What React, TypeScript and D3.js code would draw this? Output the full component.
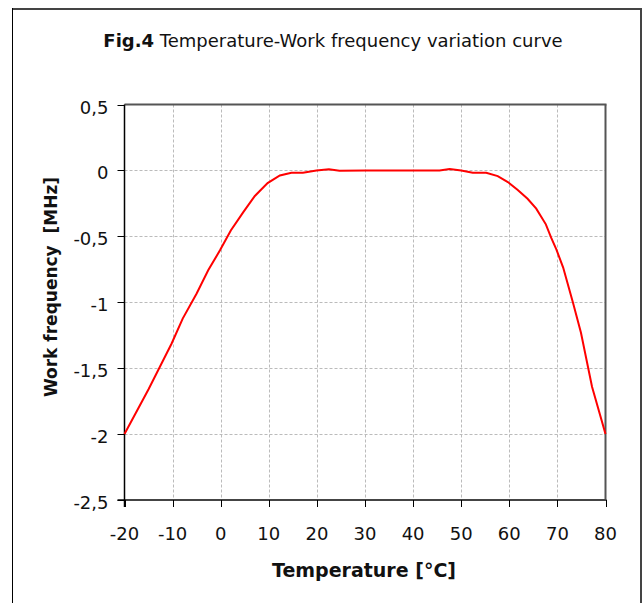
import React, { useEffect, useRef } from "react";
import * as d3 from "d3";

const temperature = [-20, -15, -10.2, -7.9, -5, -2.6, -0.15, 2.1, 4.7, 7.1, 9.75, 12.3, 14.7, 17.1, 19.9, 22.5, 24.7, 30, 35, 40, 45.5, 47.6, 50, 52.4, 55.2, 57.6, 59.7, 61.7, 63.8, 65.6, 67.6, 68.7, 69.8, 71.2, 73.2, 74.9, 77.2, 80];
const frequency = [-2, -1.66, -1.313, -1.124, -0.934, -0.758, -0.606, -0.455, -0.316, -0.194, -0.096, -0.038, -0.018, -0.018, 0, 0.008, -0.003, 0, 0, 0, 0, 0.01, 0, -0.018, -0.018, -0.043, -0.088, -0.146, -0.215, -0.29, -0.409, -0.51, -0.601, -0.737, -0.998, -1.232, -1.641, -2];
const xTicks = [-20, -10, 0, 10, 20, 30, 40, 50, 60, 70, 80];
const yTicks = [0.5, 0, -0.5, -1, -1.5, -2, -2.5];

const FONT = "'DejaVu Sans', Verdana, sans-serif";

export default function App() {
  const ref = useRef<SVGSVGElement>(null);
  useEffect(() => {
    const svg = d3.select(ref.current);
    svg.selectAll("*").remove();
    const W = 644, H = 603;
    const L = 124.5, R = 605.5, T = 104.5, B = 500;
    const x = d3.scaleLinear().domain([-20, 80]).range([L, R]);
    const y = d3.scaleLinear().domain([-2.5, 0.5]).range([B, T]);

    svg.append("rect").attr("width", W).attr("height", H).attr("fill", "#fff");
    // outer frame
    svg.append("line").attr("x1", 12).attr("x2", 641).attr("y1", 9).attr("y2", 9).attr("stroke", "#444").attr("stroke-width", 2);
    svg.append("line").attr("x1", 641).attr("x2", 641).attr("y1", 8).attr("y2", H).attr("stroke", "#444").attr("stroke-width", 2);
    svg.append("line").attr("x1", 12.5).attr("x2", 12.5).attr("y1", 8).attr("y2", H).attr("stroke", "#000").attr("stroke-width", 1);

    // grid
    const g = svg.append("g");
    g.selectAll(".vg").data(xTicks.slice(1, -1)).enter().append("line")
      .attr("x1", (d) => Math.round(x(d)) + 0.5).attr("x2", (d) => Math.round(x(d)) + 0.5)
      .attr("y1", T).attr("y2", B).attr("stroke", "#bbb").attr("stroke-dasharray", "3,2");
    g.selectAll(".hg").data(yTicks.slice(1, -1)).enter().append("line")
      .attr("x1", L).attr("x2", R)
      .attr("y1", (d) => Math.round(y(d)) + 0.5).attr("y2", (d) => Math.round(y(d)) + 0.5)
      .attr("stroke", "#bbb").attr("stroke-dasharray", "3,2");

    // plot borders
    svg.append("line").attr("x1", L).attr("x2", R + 1).attr("y1", T).attr("y2", T).attr("stroke", "#555").attr("stroke-width", 2);
    svg.append("line").attr("x1", R).attr("x2", R).attr("y1", T).attr("y2", B).attr("stroke", "#555").attr("stroke-width", 2);
    svg.append("line").attr("x1", L - 7).attr("x2", R + 1).attr("y1", B).attr("y2", B).attr("stroke", "#444").attr("stroke-width", 2);
    svg.append("line").attr("x1", L).attr("x2", L).attr("y1", T).attr("y2", B + 7).attr("stroke", "#000").attr("stroke-width", 1.5);

    // ticks
    svg.selectAll(".xt").data(xTicks).enter().append("line")
      .attr("x1", (d) => Math.round(x(d)) + 0.5).attr("x2", (d) => Math.round(x(d)) + 0.5)
      .attr("y1", B).attr("y2", B + 7).attr("stroke", "#000");
    svg.selectAll(".yt").data(yTicks).enter().append("line")
      .attr("x1", L - 7).attr("x2", L)
      .attr("y1", (d) => Math.round(y(d)) + 0.5).attr("y2", (d) => Math.round(y(d)) + 0.5).attr("stroke", "#000");

    svg.selectAll(".xl").data(xTicks).enter().append("text")
      .attr("x", (d) => x(d)).attr("y", 539.5).attr("text-anchor", "middle")
      .attr("font-family", FONT).attr("font-size", 18).attr("fill", "#111")
      .text((d) => String(d));
    svg.selectAll(".yl").data(yTicks).enter().append("text")
      .attr("x", 108.5).attr("y", (d) => y(d) + 9).attr("text-anchor", "end")
      .attr("font-family", FONT).attr("font-size", 18).attr("fill", "#111")
      .text((d) => String(d).replace(".", ","));

    // line
    const data = temperature.map((t, i) => [t, frequency[i]] as [number, number]);
    svg.append("path").datum(data)
      .attr("d", d3.line<[number, number]>().x((d) => x(d[0])).y((d) => y(d[1])))
      .attr("fill", "none").attr("stroke", "#ff0000").attr("stroke-width", 2);

    // title
    const title = svg.append("text").attr("x", 333).attr("y", 47).attr("text-anchor", "middle")
      .attr("font-family", FONT).attr("font-size", 18).attr("fill", "#111");
    title.append("tspan").attr("font-weight", "bold").text("Fig.4");
    title.append("tspan").text(" Temperature-Work frequency variation curve");

    svg.append("text").attr("x", 364).attr("y", 577).attr("text-anchor", "middle")
      .attr("font-family", FONT).attr("font-size", 19).attr("font-weight", "bold").attr("fill", "#111")
      .text("Temperature [°C]");
    svg.append("text").attr("transform", "translate(57,287) rotate(-90)").attr("text-anchor", "middle")
      .attr("font-family", FONT).attr("font-size", 17).attr("font-weight", "bold").attr("fill", "#111")
      .attr("xml:space", "preserve").style("white-space", "pre")
      .text("Work frequency  [MHz]");
  }, []);
  return <svg ref={ref} width={644} height={603} style={{ position: "absolute", left: 0, top: 0, display: "block" }} />;
}
